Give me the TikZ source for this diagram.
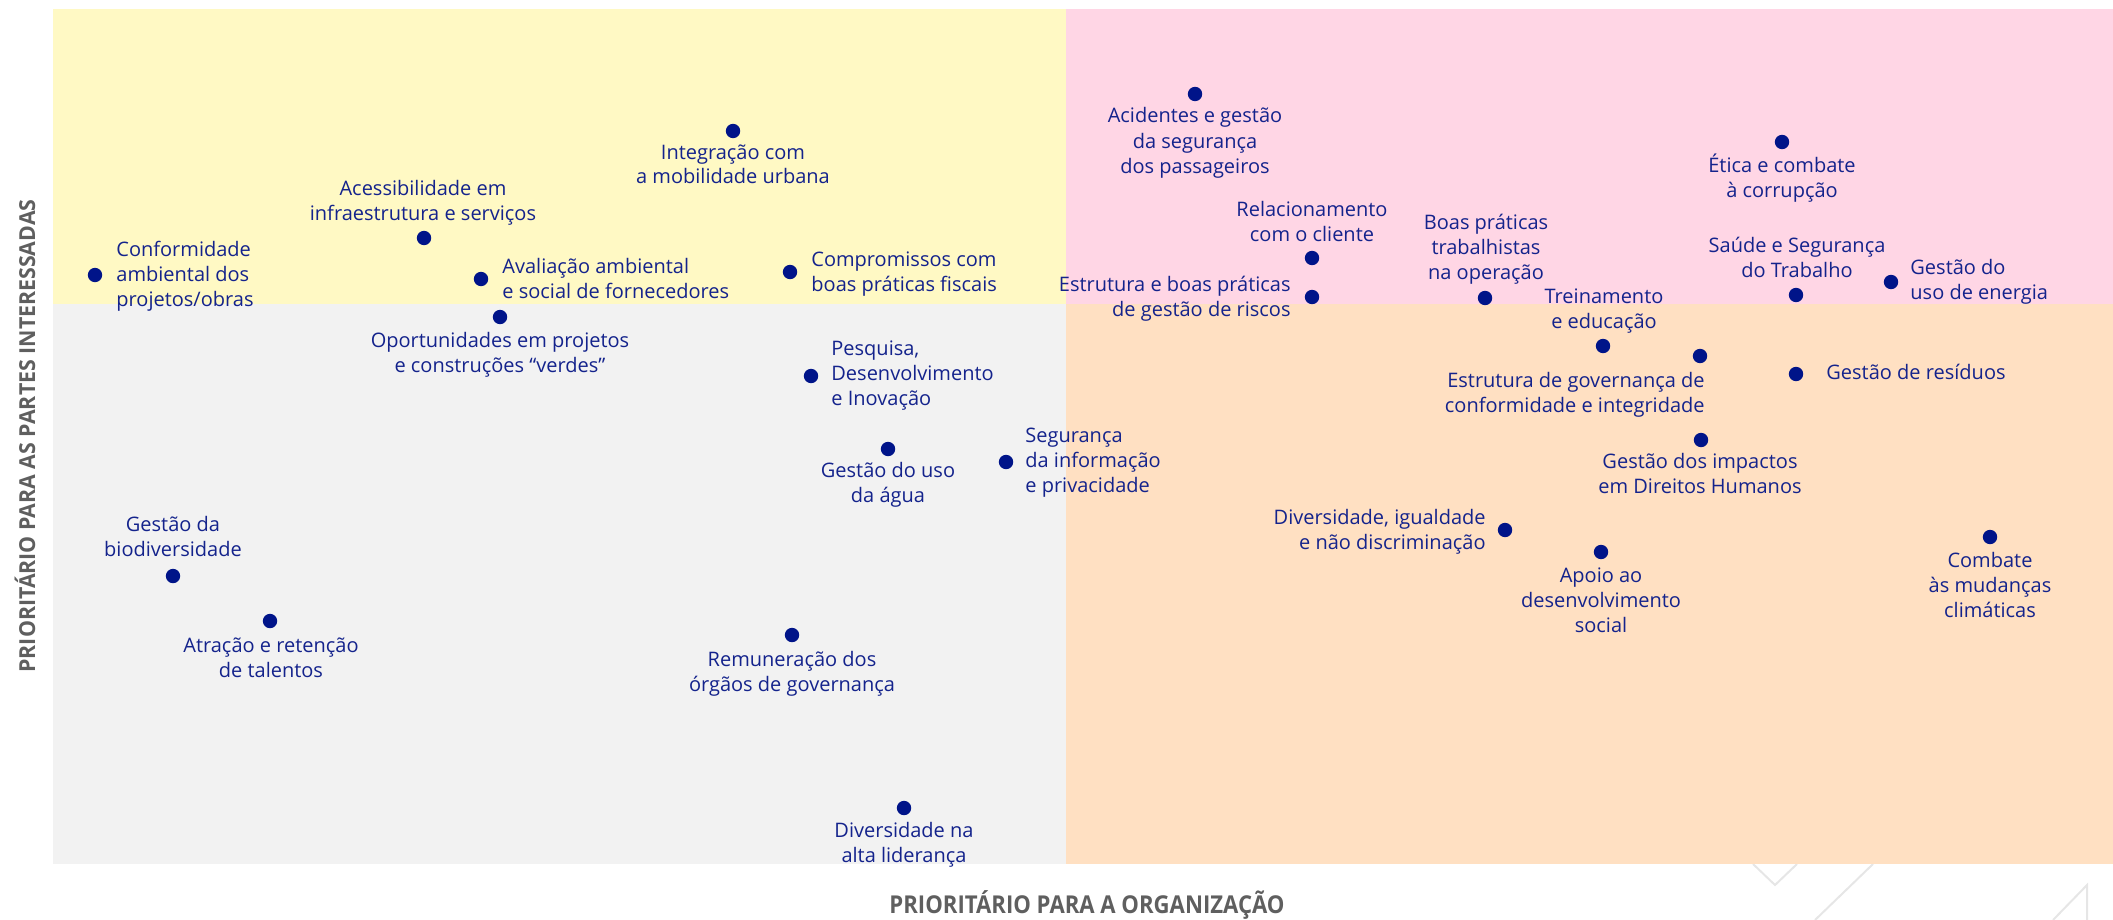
\documentclass[tikz,border=0pt]{standalone}
\usepackage{fontspec}
\setmainfont{Open Sans}
\usepackage{graphicx}
\definecolor{qyellow}{RGB}{255,249,196}
\definecolor{qpink}{RGB}{255,214,229}
\definecolor{qgrey}{RGB}{242,242,242}
\definecolor{qpeach}{RGB}{255,224,194}
\definecolor{dotblue}{RGB}{0,20,137}
\definecolor{txtblue}{RGB}{20,35,140}
\definecolor{axisgrey}{RGB}{95,95,95}
\definecolor{decor}{RGB}{230,230,230}
\tikzset{
  dotnode/.style={circle,fill=dotblue,inner sep=0pt,minimum size=7.2pt},
  lbl/.style={inner sep=0pt,text=txtblue,font=\fontsize{10}{12.5}\selectfont},
  lblc/.style={lbl,align=center,anchor=center},
  lblw/.style={lbl,align=left,anchor=west},
  lble/.style={lbl,align=right,anchor=east},
  axislbl/.style={inner sep=0pt,text=axisgrey,font=\bfseries},
  decorline/.style={draw=decor,line width=1pt}
}
\begin{document}
\begin{tikzpicture}[x=0.5pt,y=-0.5pt]
\useasboundingbox (0,0) rectangle (2113,920);
% decorative lines
\draw[decorline] (1753,864) -- (1775,885) -- (1797,864);
\draw[decorline] (1873,864) -- (1815,920);
\draw[decorline] (2053,920) -- (2087,885) -- (2087,920);
% quadrants
\fill[qyellow] (53,9) rectangle (1066,304);
\fill[qpink] (1066,9) rectangle (2113,304);
\fill[qgrey] (53,304) rectangle (1066,864);
\fill[qpeach] (1066,304) rectangle (2113,864);
% axis labels
\node[axislbl] (xaxis) at (1087,905) {\fontsize{12.3}{14}\selectfont\scalebox{0.9}[1]{PRIORITÁRIO PARA A ORGANIZAÇÃO}};
\node[axislbl,rotate=90] (yaxis) at (25,436) {\fontsize{11}{13}\selectfont\scalebox{0.97}[1]{PRIORITÁRIO PARA AS PARTES INTERESSADAS}};
% dots
\node[dotnode] (d1) at (95,275) {};
\node[dotnode] (d2) at (424,238) {};
\node[dotnode] (d3) at (481,279) {};
\node[dotnode] (d4) at (500,317) {};
\node[dotnode] (d5) at (733,131) {};
\node[dotnode] (d6) at (790,272) {};
\node[dotnode] (d7) at (811,376) {};
\node[dotnode] (d8) at (888,449) {};
\node[dotnode] (d9) at (1006,462) {};
\node[dotnode] (d10) at (173,576) {};
\node[dotnode] (d11) at (270,621) {};
\node[dotnode] (d12) at (792,635) {};
\node[dotnode] (d13) at (904,808) {};
\node[dotnode] (d14) at (1195,94) {};
\node[dotnode] (d15) at (1782,142) {};
\node[dotnode] (d16) at (1312,258) {};
\node[dotnode] (d17) at (1312,297) {};
\node[dotnode] (d18) at (1485,298) {};
\node[dotnode] (d19) at (1603,346) {};
\node[dotnode] (d20) at (1700,356) {};
\node[dotnode] (d21) at (1796,295) {};
\node[dotnode] (d22) at (1891,282) {};
\node[dotnode] (d23) at (1796,374) {};
\node[dotnode] (d24) at (1701,440) {};
\node[dotnode] (d25) at (1505,530) {};
\node[dotnode] (d26) at (1601,552) {};
\node[dotnode] (d27) at (1990,537) {};
% labels
\node[lblw] (l1) at (116,276) {\strut Conformidade\\\strut ambiental dos\\\strut projetos/obras};
\node[lblc] (l2) at (423,203) {\strut Acessibilidade em\\\strut infraestrutura e serviços};
\node[lblw] (l3) at (502,281) {\strut Avaliação ambiental\\\strut e social de fornecedores};
\node[lblc] (l4) at (500,354.5) {\strut Oportunidades em projetos\\\strut e construções “verdes”};
\node[lblc] (l5) at (733,166.5) {\strut Integração com\\\strut a mobilidade urbana};
\node[lblw] (l6) at (811,273.5) {\strut Compromissos com\\\strut boas práticas fiscais};
\node[lblw] (l7) at (831,375) {\strut Pesquisa,\\\strut Desenvolvimento\\\strut e Inovação};
\node[lblc] (l8) at (888,485) {\strut Gestão do uso\\\strut da água};
\node[lblw] (l9) at (1025,462) {\strut Segurança\\\strut da informação\\\strut e privacidade};
\node[lblc] (l10) at (173,538.5) {\strut Gestão da\\\strut biodiversidade};
\node[lblc] (l11) at (271,659.5) {\strut Atração e retenção\\\strut de talentos};
\node[lblc] (l12) at (792,673.5) {\strut Remuneração dos\\\strut órgãos de governança};
\node[lblc] (l13) at (904,845) {\strut Diversidade na\\\strut alta liderança};
\node[lblc] (l14) at (1195,143) {\strut Acidentes e gestão\\\strut da segurança\\\strut dos passageiros};
\node[lblc] (l15) at (1782,179) {\strut Ética e combate\\\strut à corrupção};
\node[lblc] (l16) at (1312,223.5) {\strut Relacionamento\\\strut com o cliente};
\node[lble] (l17) at (1291,299) {\strut Estrutura e boas práticas\\\strut de gestão de riscos};
\node[lblc] (l18) at (1486,249) {\strut Boas práticas\\\strut trabalhistas\\\strut na operação};
\node[lblc] (l19) at (1604,310.5) {\strut Treinamento\\\strut e educação};
\node[lble] (l20) at (1705,394.5) {\strut Estrutura de governança de\\\strut conformidade e integridade};
\node[lblc] (l21) at (1797,259.5) {\strut Saúde e Segurança\\\strut do Trabalho};
\node[lblw] (l22) at (1910,282) {\strut Gestão do\\\strut uso de energia};
\node[lblw] (l23) at (1826,374) {\strut Gestão de resíduos};
\node[lblc] (l24) at (1700,476) {\strut Gestão dos impactos\\\strut em Direitos Humanos};
\node[lble] (l25) at (1486,531.5) {\strut Diversidade, igualdade\\\strut e não discriminação};
\node[lblc] (l26) at (1601,602) {\strut Apoio ao\\\strut desenvolvimento\\\strut social};
\node[lblc] (l27) at (1990,587) {\strut Combate\\\strut às mudanças\\\strut climáticas};
\end{tikzpicture}
\end{document}
